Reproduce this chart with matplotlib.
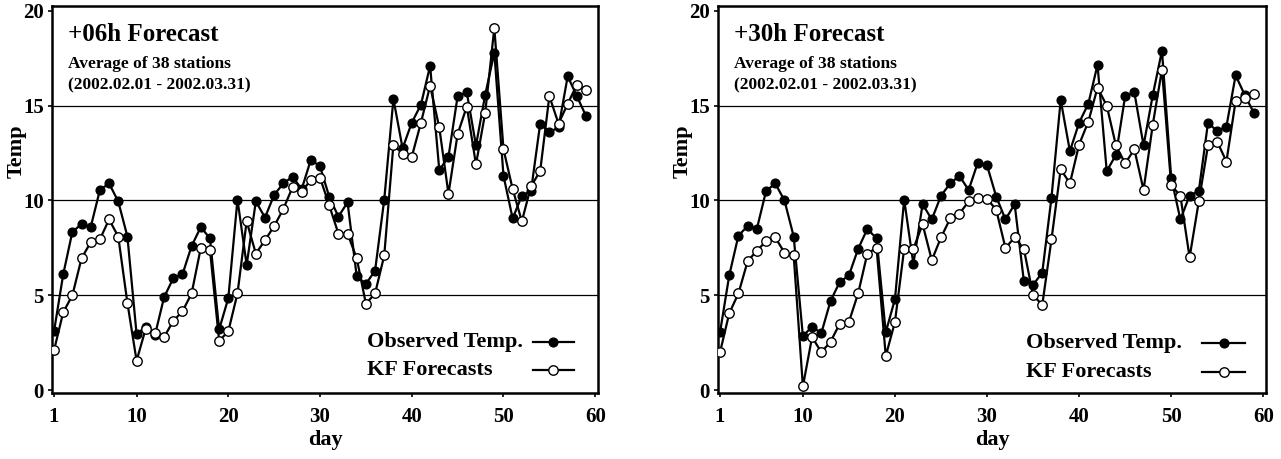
import numpy as np
import matplotlib
matplotlib.use("Agg")
import matplotlib.pyplot as plt

plt.rcParams['font.family'] = ['Liberation Serif', 'DejaVu Serif']
plt.rcParams['font.weight'] = 'bold'

days = np.arange(1, 60)

# +06h forecast panel
obs_06 = [3.1, 6.1, 8.35, 8.75, 8.6, 10.55, 10.9, 9.95, 8.1, 2.95,
          3.35, 2.9, 4.9, 5.9, 6.1, 7.6, 8.6, 8.0, 3.2, 4.85,
          10.05, 6.6, 9.95, 9.1, 10.3, 10.9, 11.25, 10.6, 12.15, 11.8,
          10.2, 9.15, 9.9, 6.0, 5.6, 6.3, 10.05, 15.35, 12.75, 14.1,
          15.05, 17.1, 11.6, 12.3, 15.5, 15.7, 12.9, 15.55, 17.8, 11.3,
          9.05, 10.25, 10.5, 14.05, 13.6, 13.85, 16.55, 15.5, 14.45]
kf_06 = [2.1, 4.1, 5.0, 6.95, 7.8, 7.95, 9.0, 8.1, 4.6, 1.55,
         3.25, 3.0, 2.8, 3.65, 4.15, 5.1, 7.5, 7.4, 2.6, 3.1,
         5.1, 8.9, 7.2, 7.9, 8.65, 9.55, 10.7, 10.45, 11.1, 11.2,
         9.75, 8.25, 8.25, 6.95, 4.55, 5.1, 7.1, 12.95, 12.45, 12.3,
         14.1, 16.05, 13.85, 10.35, 13.5, 14.95, 11.9, 14.6, 19.1, 12.7,
         10.6, 8.9, 10.75, 11.55, 15.5, 14.05, 15.1, 16.1, 15.85]

# +30h forecast panel
obs_30 = [3.05, 6.05, 8.15, 8.65, 8.5, 10.5, 10.9, 10.0, 8.1, 2.85,
          3.35, 3.0, 4.7, 5.7, 6.05, 7.45, 8.5, 8.0, 3.05, 4.8,
          10.05, 6.65, 9.8, 9.0, 10.25, 10.9, 11.3, 10.55, 12.0, 11.85,
          10.2, 9.0, 9.8, 5.75, 5.55, 6.2, 10.15, 15.3, 12.6, 14.1,
          15.1, 17.15, 11.55, 12.4, 15.5, 15.7, 12.9, 15.55, 17.9, 11.2,
          9.0, 10.25, 10.5, 14.1, 13.65, 13.9, 16.6, 15.55, 14.6]
kf_30 = [2.0, 4.05, 5.1, 6.8, 7.35, 7.85, 8.05, 7.25, 7.1, 0.2,
         2.8, 2.0, 2.55, 3.5, 3.6, 5.1, 7.2, 7.5, 1.8, 3.6,
         7.45, 7.45, 8.75, 6.85, 8.05, 9.05, 9.3, 9.95, 10.15, 10.1,
         9.5, 7.5, 8.05, 7.45, 5.0, 4.5, 7.95, 11.65, 10.9, 12.95,
         14.15, 15.95, 15.0, 12.9, 11.95, 12.7, 10.55, 14.0, 16.9, 10.8,
         10.25, 7.0, 9.95, 12.9, 13.1, 12.05, 15.25, 15.4, 15.6]

panels = [
    ('+06h Forecast', obs_06, kf_06),
    ('+30h Forecast', obs_30, kf_30),
]
legend_labels = ['Observed Temp.', 'KF Forecasts']
xticks = [1, 10, 20, 30, 40, 50, 60]
yticks = [0, 5, 10, 15, 20]

fig = plt.figure(figsize=(12.81, 4.59), dpi=100)
ax_rects = [[0.0406, 0.1438, 0.4262, 0.843],
            [0.5605, 0.1438, 0.4278, 0.843]]
# legend placement (axes fraction): text x, line x0, line x1, row y's
leg_pos = [(0.577, 0.881, 0.956, [0.132, 0.059]),
           (0.562, 0.883, 0.962, [0.129, 0.054])]

filled = dict(color='black', lw=1.6, marker='o', markersize=6.3,
              markerfacecolor='black', markeredgecolor='black')
hollow = dict(color='black', lw=1.6, marker='o', markersize=6.8,
              markerfacecolor='white', markeredgecolor='black', markeredgewidth=1.0)

for rect, lp, (title, obs, kf) in zip(ax_rects, leg_pos, panels):
    ax = fig.add_axes(rect)
    for g in [5, 10, 15]:
        ax.axhline(g, color='black', lw=0.9, zorder=1)
    ax.plot(days, obs, zorder=3, **filled)
    ax.plot(days, kf, zorder=4, **hollow)
    ax.set_xlim(0.78, 60.3)
    ax.set_ylim(-0.15, 20.25)
    ax.set_xticks(xticks)
    ax.set_yticks(yticks)
    ax.tick_params(axis='both', labelsize=15, length=3, width=1.2, direction='out')
    ax.tick_params(axis='x', pad=7)
    ax.tick_params(axis='y', pad=3)
    for lab in ax.get_xticklabels() + ax.get_yticklabels():
        lab.set_fontweight('bold')
    for sp in ax.spines.values():
        sp.set_linewidth(1.8)
    ax.set_xlabel('day', fontsize=16, fontweight='bold', labelpad=2)
    ax.set_ylabel('Temp', fontsize=16, fontweight='bold', labelpad=-3.5)
    # the label sits between the 10 and 15 ticks, as in the original
    ax.yaxis.set_label_coords(-0.047, 0.625)
    ax.text(0.03, 0.955, title, transform=ax.transAxes, fontsize=18,
            fontweight='bold', va='top', ha='left')
    ax.text(0.03, 0.87, 'Average of 38 stations', transform=ax.transAxes,
            fontsize=12.5, fontweight='bold', va='top', ha='left')
    ax.text(0.03, 0.815, '(2002.02.01 - 2002.03.31)', transform=ax.transAxes,
            fontsize=12.5, fontweight='bold', va='top', ha='left')

    # legend: label text first, sample line after it
    tx, lx0, lx1, rows = lp
    for label, style, ry in zip(legend_labels, [filled, hollow], rows):
        ax.text(tx, ry, label, transform=ax.transAxes, fontsize=16,
                fontweight='bold', va='center', ha='left')
        ax.plot([lx0, lx1], [ry, ry], transform=ax.transAxes,
                color='black', lw=1.6, clip_on=False)
        mstyle = {k: v for k, v in style.items() if k not in ('color', 'lw')}
        ax.plot([(lx0 + lx1) / 2], [ry], transform=ax.transAxes,
                linestyle='none', clip_on=False, **mstyle)

fig.savefig('out.png', dpi=100)
